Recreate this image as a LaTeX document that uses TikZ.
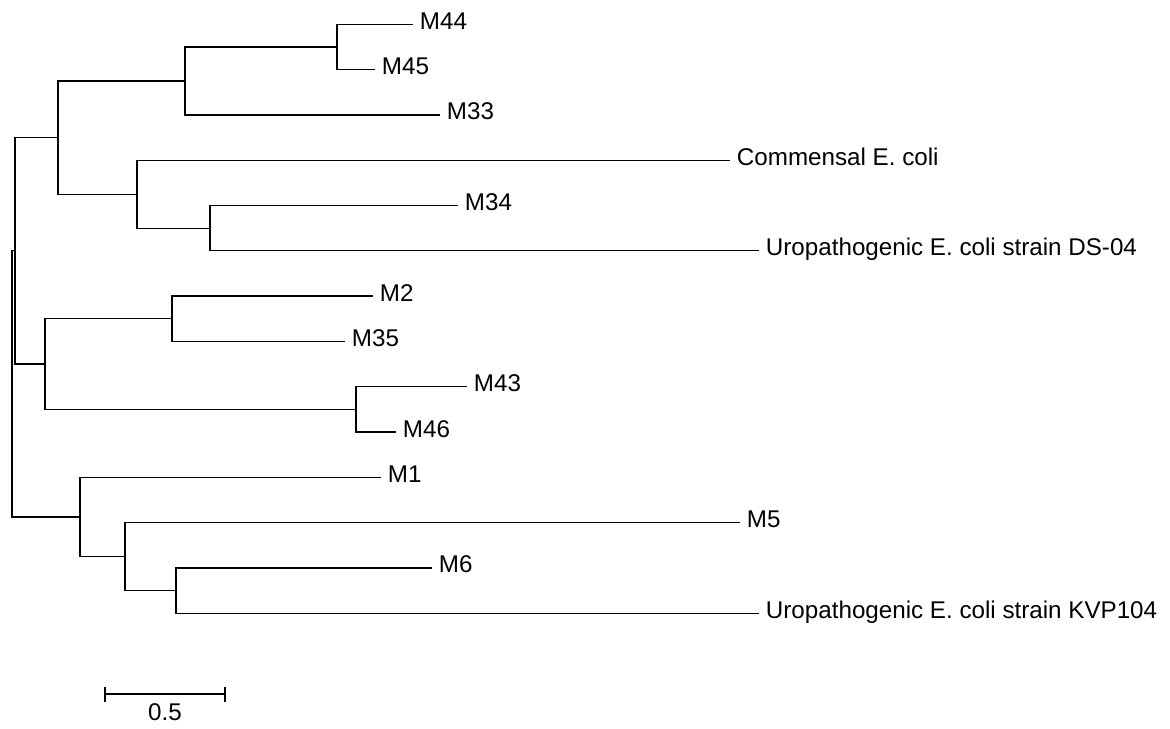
\documentclass[tikz,border=0pt]{standalone}
\usepackage{fontspec}
\setmainfont{Liberation Sans}
\begin{document}
\begin{tikzpicture}[x=0.025cm, y=-0.025cm, line width=0.9pt,
  taxon/.style={anchor=west, inner sep=0.45em, text height=0.72em, text depth=0pt,
    font=\fontsize{17.2}{20}\selectfont}]

\useasboundingbox (0,0) rectangle (1170,729);

% branch tips
\coordinate (tM44) at (413,24.3);
\coordinate (tM45) at (375,69.6);
\coordinate (tM33) at (440,114.9);
\coordinate (tCom) at (730,160.2);
\coordinate (tM34) at (458,205.5);
\coordinate (tDS) at (759,250.8);
\coordinate (tM2) at (373,296.1);
\coordinate (tM35) at (345,341.4);
\coordinate (tM43) at (467,386.7);
\coordinate (tM46) at (396,432);
\coordinate (tM1) at (381,477.3);
\coordinate (tM5) at (740,522.6);
\coordinate (tM6) at (432,567.9);
\coordinate (tKVP) at (759,613.2);

% taxa
\node[taxon] (M44) at (tM44) {M44};
\node[taxon] (M45) at (tM45) {M45};
\node[taxon] (M33) at (tM33) {M33};
\node[taxon] (Com) at (tCom) {Commensal E. coli};
\node[taxon] (M34) at (tM34) {M34};
\node[taxon] (DS) at (tDS) {Uropathogenic E. coli strain DS-04};
\node[taxon] (M2) at (tM2) {M2};
\node[taxon] (M35) at (tM35) {M35};
\node[taxon] (M43) at (tM43) {M43};
\node[taxon] (M46) at (tM46) {M46};
\node[taxon] (M1) at (tM1) {M1};
\node[taxon] (M5) at (tM5) {M5};
\node[taxon] (M6) at (tM6) {M6};
\node[taxon] (KVP) at (tKVP) {Uropathogenic E. coli strain KVP104};

% internal nodes
\coordinate (n4445) at (337,46.95);
\coordinate (n33) at (185,80.9);
\coordinate (nds) at (210,228.15);
\coordinate (ncom) at (137,194.2);
\coordinate (ntop) at (58,137.55);
\coordinate (n235) at (172,318.75);
\coordinate (n4346) at (356,409.35);
\coordinate (nmid) at (45,364.05);
\coordinate (nup) at (15,250.8);
\coordinate (nroot) at (12,383.9);
\coordinate (nbot) at (80,516.9);
\coordinate (n56) at (125,556.6);
\coordinate (n6k) at (176,590.55);

% branches
\draw (tM44) -| (n4445) |- (tM45);
\draw (n4445) -| (n33) |- (tM33);
\draw (tM34) -| (nds) |- (tDS);
\draw (tCom) -| (ncom) |- (nds);
\draw (n33) -| (ntop) |- (ncom);
\draw (tM2) -| (n235) |- (tM35);
\draw (tM43) -| (n4346) |- (tM46);
\draw (n235) -| (nmid) |- (n4346);
\draw (ntop) -| (nup) |- (nmid);
\draw (nup) -| (nroot) |- (nbot);
\draw (tM5) -| (n56) |- (n6k);
\draw (tM6) -| (n6k) |- (tKVP);
\draw (tM1) -| (nbot) |- (n56);

% scale bar
\coordinate (sb1) at (105,694);
\coordinate (sb2) at (225,694);
\draw (sb1) -- (sb2);
\draw (sb1) ++(0,-7.5) -- ++(0,15);
\draw (sb2) ++(0,-7.5) -- ++(0,15);
\node[taxon, anchor=center] (sbl) at (165,715.5) {0.5};

\end{tikzpicture}
\end{document}
